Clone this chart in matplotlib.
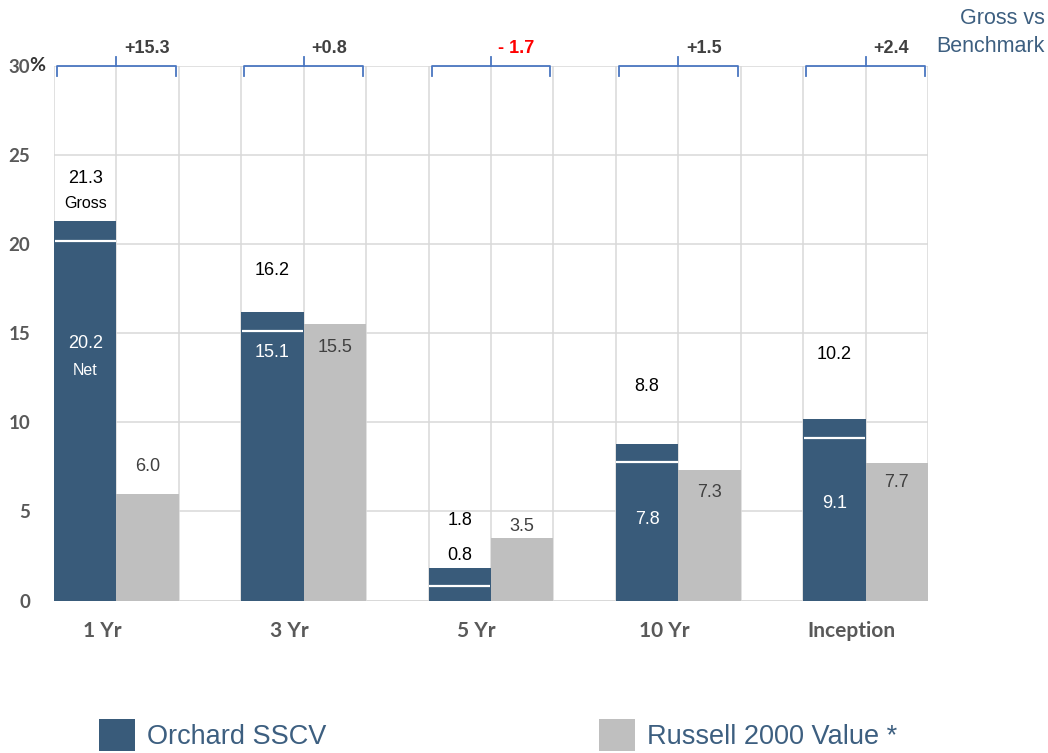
import matplotlib
matplotlib.use("Agg")
import matplotlib.pyplot as plt
import matplotlib.transforms as mtransforms
from matplotlib.patches import Patch
import numpy as np

# ---- data ----
categories = ["1 Yr", "3 Yr", "5 Yr", "10 Yr", "Inception"]
gross = [21.3, 16.2, 1.8, 8.8, 10.2]
net = [20.2, 15.1, 0.8, 7.8, 9.1]
benchmark = [6.0, 15.5, 3.5, 7.3, 7.7]
diff_labels = ["+15.3", "+0.8", "- 1.7", "+1.5", "+2.4"]
yticks = [0, 5, 10, 15, 20, 25, 30]

# ---- label placement (data units) ----
gross_lab_y = [23.7, 18.5, 4.5, 12.0, 13.8]
net_lab_y = [14.4, 13.9, 2.5, 4.55, 5.45]
net_inside = [True, True, False, True, True]
bench_lab_y = [7.5, 14.2, 4.15, 6.07, 6.6]

NAVY = "#395b7a"
GREY = "#bfbfbf"
GRID = "#d9d9d9"
TICK = "#595959"
BLUE = "#4a76c0"
LEG = "#3d5f80"

plt.rcParams["font.family"] = ["Liberation Sans", "DejaVu Sans"]

fig = plt.figure(figsize=(10.48, 7.53), dpi=100)
ax = fig.add_axes([54 / 1048, 1 - 600.5 / 753, 874 / 1048, (600.5 - 66) / 753])

n = len(categories)
xn = np.arange(n) * 3
xb = xn + 1

ax.bar(xn, gross, width=1.0, color=NAVY, zorder=3, linewidth=0)
ax.bar(xb, benchmark, width=1.0, color=GREY, zorder=3, linewidth=0)
ax.hlines(net, xn - 0.49, xn + 0.49, colors="white", linewidth=1.6, zorder=4)

ax.set_xlim(-0.5, 3 * n - 1.5)
ax.set_ylim(0, 30)

# grid
ax.set_yticks(yticks)
ax.set_xticks(np.arange(-0.5, 3 * n - 1.0, 1.0), minor=True)
ax.grid(True, which="major", axis="y", color=GRID, linewidth=1.1, zorder=0)
ax.grid(True, which="minor", axis="x", color=GRID, linewidth=1.1, zorder=0)
ax.axhline(0, color=GRID, linewidth=2, zorder=2)
for s in ax.spines.values():
    s.set_visible(False)

ax.tick_params(axis="both", which="both", length=0)
ax.set_yticklabels([str(v) for v in yticks], fontfamily="Lato", fontweight="bold",
                   fontsize=13.5, color=TICK)
for lab in ax.get_yticklabels():
    lab.set_horizontalalignment("right")
ax.tick_params(axis="y", pad=17)
# percent sign after 30
trans = mtransforms.blended_transform_factory(ax.transAxes, ax.transData)
ax.text(-24.5 / 874, 30, "%", transform=trans, ha="left", va="center",
        fontfamily="Lato", fontweight="bold", fontsize=14, color="#333333")

ax.set_xticks(xn + 0.27)
ax.set_xticklabels(categories, fontfamily="Lato", fontweight="bold", fontsize=15, color=TICK)
ax.tick_params(axis="x", which="major", pad=15)

# value labels
for i in range(n):
    ax.text(xn[i], gross_lab_y[i], f"{gross[i]:.1f}", ha="center", va="center",
            fontsize=13, color="black", zorder=5)
    ax.text(xn[i], net_lab_y[i], f"{net[i]:.1f}", ha="center", va="center",
            fontsize=13, color="white" if net_inside[i] else "black", zorder=5)
    ax.text(xb[i], bench_lab_y[i], f"{benchmark[i]:.1f}", ha="center", va="center",
            fontsize=13, color="#404040", zorder=5)
ax.text(xn[0], 22.3, "Gross", ha="center", va="center", fontsize=11.5, color="black", zorder=5)
ax.text(xn[0], 12.9, "Net", ha="center", va="center", fontsize=11.5, color="white", zorder=5)

# brackets
for i in range(n):
    x0 = xn[i] - 0.45
    x1 = xb[i] + 0.45
    xm = xn[i] + 0.5
    ax.plot([x0, x0, x1, x1], [29.45, 30.0, 30.0, 29.45], color=BLUE, lw=1.3,
            clip_on=False, zorder=6, solid_joinstyle="round")
    ax.plot([xm, xm], [30.0, 30.5], color=BLUE, lw=1.3, clip_on=False, zorder=6)
    col = "red" if diff_labels[i].startswith("-") else "#404040"
    ax.text(xm + 0.12, 30.97, diff_labels[i], ha="left", va="center", fontsize=13,
            fontweight="bold", color=col, clip_on=False)

fig.text(1045 / 1048, 1 - 18 / 753, "Gross vs", ha="right", va="center", fontsize=15.5, color=LEG)
fig.text(1045 / 1048, 1 - 47 / 753, "Benchmark", ha="right", va="center", fontsize=15.5, color=LEG)

handles = [Patch(facecolor=NAVY, edgecolor="none", label="Orchard SSCV"),
           Patch(facecolor=GREY, edgecolor="none", label="Russell 2000 Value *")]
fig.legend(handles=handles, loc="center left", bbox_to_anchor=(99 / 1048, 18 / 753),
           ncol=2, frameon=False, fontsize=19.5, handlelength=1.33, handleheight=1.4,
           handletextpad=0.45, columnspacing=10.05, borderpad=0, borderaxespad=0,
           labelcolor=LEG)

fig.savefig("out.png", dpi=100)
